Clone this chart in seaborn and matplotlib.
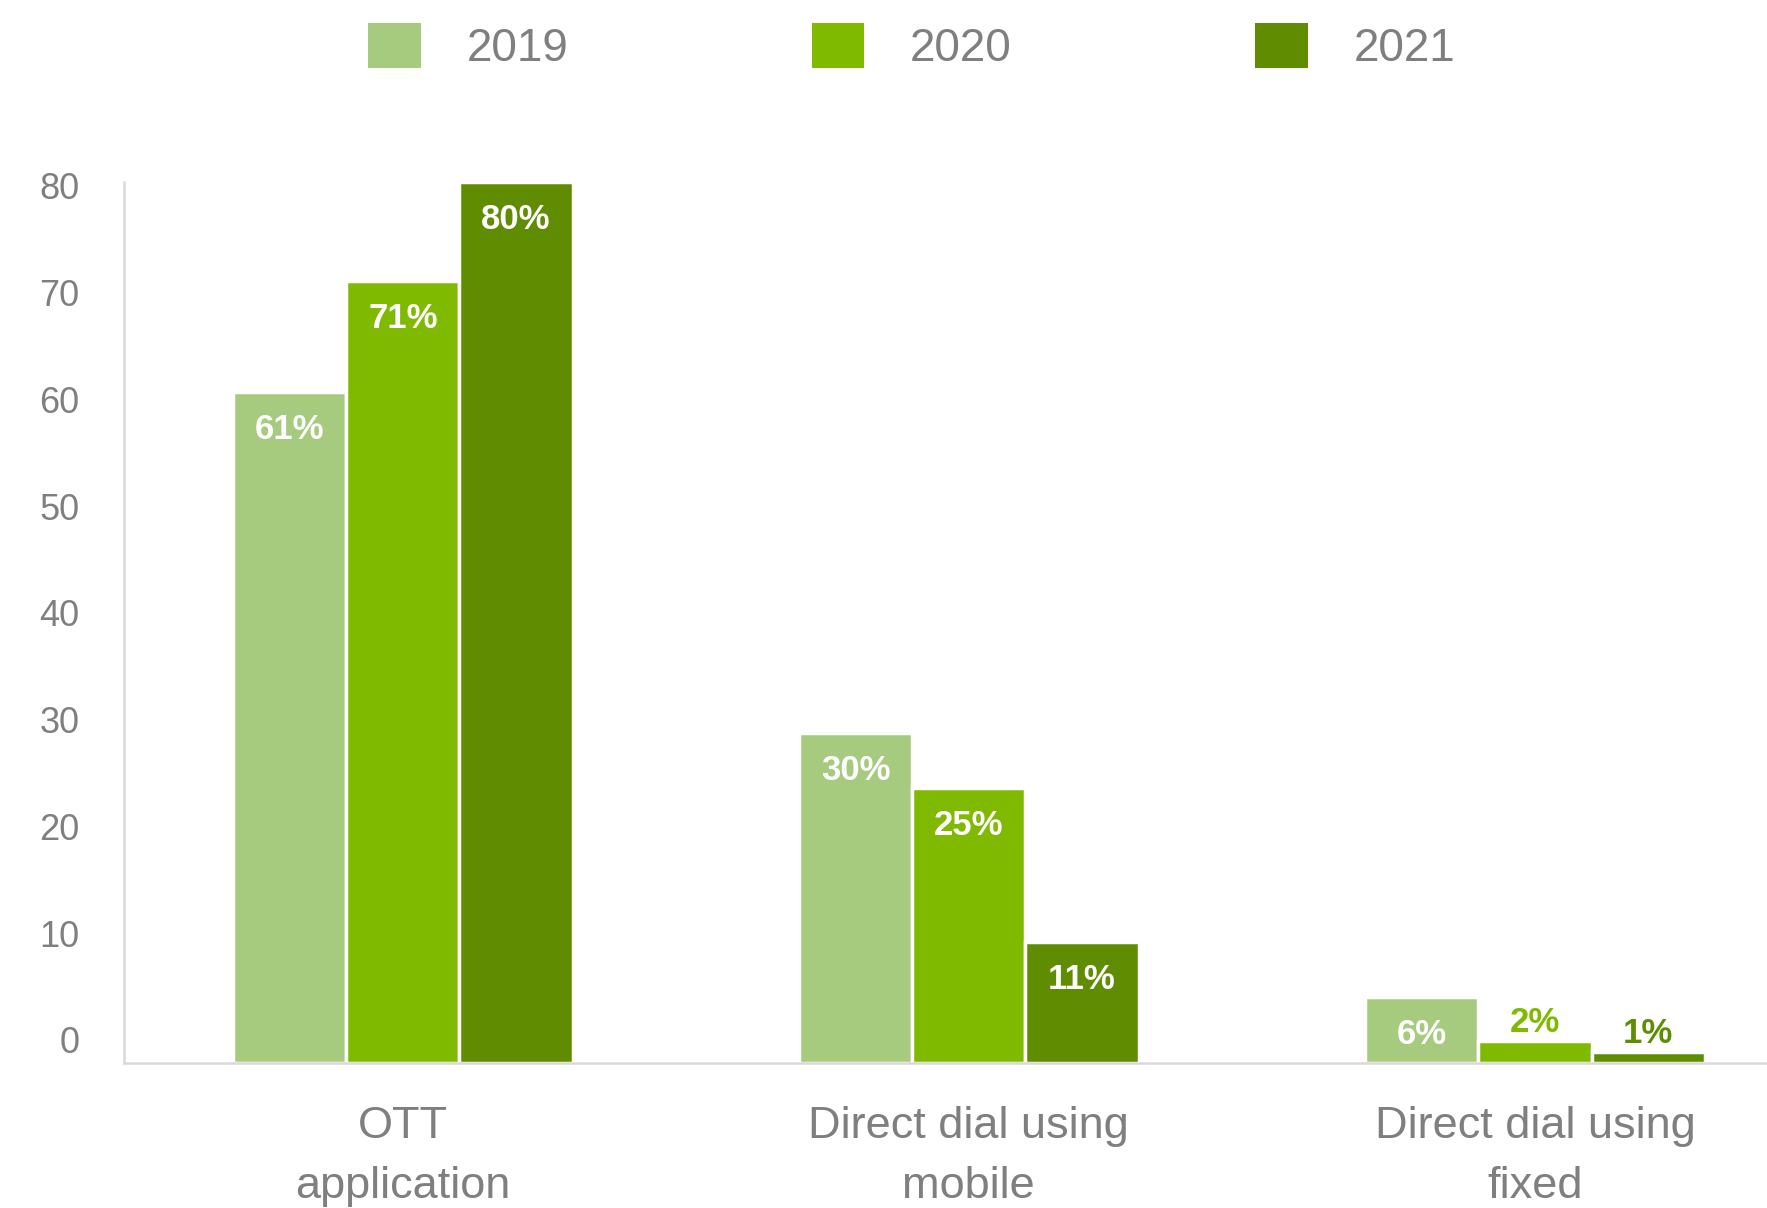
import numpy as np
import pandas as pd
import seaborn as sns
from matplotlib import pyplot as plt
from matplotlib.patches import Patch

categories = ["OTT\napplication", "Direct dial using\nmobile", "Direct dial using\nfixed"]
years = ["2019", "2020", "2021"]
values_2019 = [61, 30, 6]
values_2020 = [71, 25, 2]
values_2021 = [80, 11, 1]
ytick_labels = ["0", "10", "20", "30", "40", "50", "60", "70", "80"]

colors = ["#A6CB7E", "#7FBA00", "#5F8C00"]
grey = "#7F7F7F"

df = pd.DataFrame({
    "category": categories * 3,
    "year": [y for y in years for _ in categories],
    "value": values_2019 + values_2020 + values_2021,
})

sns.set_style("white")
plt.rcParams['font.family'] = ['Liberation Sans', 'DejaVu Sans']

fig = plt.figure(figsize=(17.67, 12.08), dpi=100)
ax = fig.add_axes([0.070, 0.120, 0.930, 0.729])

sns.barplot(data=df, x="category", y="value", hue="year", palette=colors, saturation=1,
            width=0.6, edgecolor="white", linewidth=2.5, legend=False, ax=ax)

ax.set_xlim(-0.493, 2.41)
ax.set_ylim(0, 80)

# tick labels sit slightly compressed like the original
ax.set_yticks(np.linspace(2.1, 79.7, 9))
ax.set_yticklabels(ytick_labels)
ax.tick_params(axis="y", length=0, pad=32, labelsize=26, labelcolor=grey)
ax.tick_params(axis="x", length=0, pad=31, labelsize=32.5, labelcolor=grey)
for lab in ax.get_xticklabels():
    lab.set_linespacing(1.6)
ax.set_xlabel("")
ax.set_ylabel("")

for side in ["top", "right"]:
    ax.spines[side].set_visible(False)
for side in ["left", "bottom"]:
    ax.spines[side].set_color("#D9D9D9")
    ax.spines[side].set_linewidth(1.8)

# value labels: inside the bar, or above it when the bar is too short
for container, col in zip(ax.containers, colors):
    for bar in container:
        h = bar.get_height()
        x = bar.get_x() + bar.get_width() / 2
        if h < 4:
            ax.annotate(f"{h:.0f}%", (x, h), xytext=(0, 13), textcoords="offset points",
                        ha="center", va="center", fontsize=25, fontweight="bold",
                        color=col, annotation_clip=False)
        else:
            ax.annotate(f"{h:.0f}%", (x, h), xytext=(0, -27), textcoords="offset points",
                        ha="center", va="center", fontsize=25, fontweight="bold",
                        color="white", annotation_clip=False)

handles = [Patch(facecolor=c, edgecolor="none", label=y) for c, y in zip(colors, years)]
fig.legend(handles=handles, loc="center", bbox_to_anchor=(0.516, 0.961), ncol=3,
           frameon=False, fontsize=33, labelcolor=grey, handlelength=1.15,
           handleheight=1.15, handletextpad=1.0, columnspacing=5.3)

fig.savefig("out.png", dpi=100)
